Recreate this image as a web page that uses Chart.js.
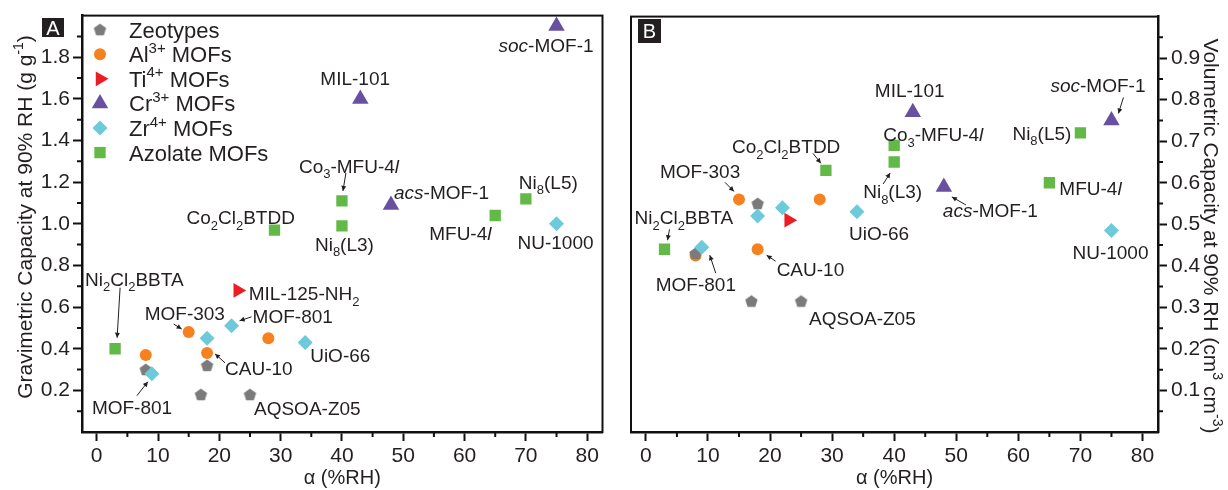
<!DOCTYPE html>
<html>
<head>
<meta charset="utf-8">
<script src="https://cdn.jsdelivr.net/npm/chart.js@4.4.1/dist/chart.umd.min.js"></script>
<style>
  html, body { margin: 0; padding: 0; background: #fff; }
  #wrap { position: relative; width: 1228px; height: 490px; }
  #chartA { position: absolute; left: 0; top: 0; }
  #chartB { position: absolute; left: 612px; top: 0; }
</style>
</head>
<body>
<div id="wrap">
  <canvas id="chartA" width="612" height="490"></canvas>
  <canvas id="chartB" width="616" height="490"></canvas>
</div>
<script>
// alpha (%RH) per material, gravimetric (g/g) and volumetric (cm3/cm3) capacity at 90% RH
const rhZeo = [8, 18, 17, 25];
const gravZeo = [0.30, 0.32, 0.18, 0.18];
const volZeo = [0.43, 0.55, 0.315, 0.315];

const rhAl = [8, 15, 18, 28];
const gravAl = [0.37, 0.48, 0.38, 0.45];
const volAl = [0.425, 0.56, 0.44, 0.56];

const rhTi = [23];
const gravTi = [0.68];
const volTi = [0.51];

const rhCr = [43, 48, 75];
const gravCr = [1.60, 1.09, 1.95];
const volCr = [0.77, 0.59, 0.75];

const rhZr = [9, 18, 22, 34, 75];
const gravZr = [0.28, 0.45, 0.51, 0.43, 1.00];
const volZr = [0.445, 0.52, 0.54, 0.53, 0.485];

const rhAz = [3, 29, 40, 40, 65, 70];
const gravAz = [0.40, 0.97, 1.11, 0.99, 1.04, 1.12];
const volAz = [0.44, 0.63, 0.69, 0.65, 0.60, 0.72];

const seriesNames = ['Zeotypes', 'Al^{3+} MOFs', 'Ti^{4+} MOFs', 'Cr^{3+} MOFs', 'Zr^{4+} MOFs', 'Azolate MOFs'];

// tick labels
const rhTicks = [0, 10, 20, 30, 40, 50, 60, 70, 80];
const rhMinor = [5, 15, 25, 35, 45, 55, 65, 75];
const gravTicks = [0.2, 0.4, 0.6, 0.8, 1.0, 1.2, 1.4, 1.6, 1.8];
const gravMinor = [0.1, 0.3, 0.5, 0.7, 0.9, 1.1, 1.3, 1.5, 1.7, 1.9];
const volTicks = [0.1, 0.2, 0.3, 0.4, 0.5, 0.6, 0.7, 0.8, 0.9];
const volMinor = [0.05, 0.15, 0.25, 0.35, 0.45, 0.55, 0.65, 0.75, 0.85, 0.95];

const FONT = "'Liberation Sans', Arial, Helvetica, sans-serif";
const INK = '#231f20';

// pentagon marker, chart.js has no built-in one
const pentagon = (r, color) => {
  const c = document.createElement('canvas');
  const s = Math.ceil(r * 2 + 2);
  c.width = s; c.height = s;
  const g = c.getContext('2d');
  g.fillStyle = color;
  g.beginPath();
  for (let i = 0; i < 5; i++) {
    const a = -Math.PI / 2 + i * 2 * Math.PI / 5;
    g.lineTo(s / 2 + r * Math.cos(a), s / 2 + r * Math.sin(a) + 0.6);
  }
  g.closePath();
  g.fill();
  return c;
};

const styles = [
  { color: '#7b7b7b', pointStyle: pentagon(6.5, '#7b7b7b'), radius: 6.5, rotation: 0, order: 2 },
  { color: '#f5821f', pointStyle: 'circle', radius: 6, rotation: 0, order: 3 },
  { color: '#ec1c24', pointStyle: 'triangle', radius: 8.5, rotation: 90, order: 0 },
  { color: '#6850a0', pointStyle: 'triangle', radius: 9.5, rotation: 0, order: 4 },
  { color: '#6ccadb', pointStyle: 'rectRot', radius: 7.5, rotation: 0, order: 1 },
  { color: '#62b947', pointStyle: 'rect', radius: 8, rotation: 0, order: 5 },
];

const zip = (xs, ys) => xs.map((x, i) => ({ x, y: ys[i] }));
const rhAll = [rhZeo, rhAl, rhTi, rhCr, rhZr, rhAz];
const gravAll = [gravZeo, gravAl, gravTi, gravCr, gravZr, gravAz];
const volAll = [volZeo, volAl, volTi, volCr, volZr, volAz];

const makeDatasets = (vals) => styles.map((st, k) => ({
  label: seriesNames[k],
  data: zip(rhAll[k], vals[k]),
  pointStyle: st.pointStyle,
  pointRadius: st.radius,
  pointRotation: st.rotation,
  backgroundColor: st.color,
  pointBorderWidth: 0,
  showLine: false,
  order: st.order,
}));

// point labels: text, series, index, offset of label (left, middle) from point, optional arrow
const notesA = [
  { text: '*soc*-MOF-1', s: 3, i: 2, dx: -58, dy: 19 },
  { text: 'MIL-101', s: 3, i: 0, dx: -40, dy: -21 },
  { text: 'Co_{3}-MFU-4*l*', s: 5, i: 2, dx: -43, dy: -35, arrow: [4, -28, 1, -10] },
  { text: '*acs*-MOF-1', s: 3, i: 1, dx: 3, dy: -13 },
  { text: 'Ni_{8}(L3)', s: 5, i: 3, dx: -27, dy: 18 },
  { text: 'MFU-4*l*', s: 5, i: 4, dx: -66, dy: 18 },
  { text: 'Ni_{8}(L5)', s: 5, i: 5, dx: -7, dy: -17 },
  { text: 'NU-1000', s: 4, i: 4, dx: -39, dy: 18 },
  { text: 'Co_{2}Cl_{2}BTDD', s: 5, i: 1, dx: -88, dy: -13 },
  { text: 'Ni_{2}Cl_{2}BBTA', s: 5, i: 0, dx: -30, dy: -70, arrow: [5, -61, 2, -11] },
  { text: 'MIL-125-NH_{2}', s: 2, i: 0, dx: 11, dy: 3 },
  { text: 'MOF-303', s: 1, i: 1, dx: -44, dy: -19, arrow: [-15, -8, -7, -3] },
  { text: 'MOF-801', s: 4, i: 2, dx: 21, dy: -10, arrow: [20, -9, 8, -5] },
  { text: 'CAU-10', s: 1, i: 2, dx: 18, dy: 15, arrow: [18, 10, 8, 1] },
  { text: 'UiO-66', s: 4, i: 3, dx: 5, dy: 13 },
  { text: 'MOF-801', s: 4, i: 0, dx: -60, dy: 33, arrow: [-15, 22, -4, 8] },
  { text: 'AQSOA-Z05', s: 0, i: 3, dx: 4, dy: 14 },
];

const notesB = [
  { text: 'MIL-101', s: 3, i: 0, dx: -38, dy: -22 },
  { text: 'Co_{3}-MFU-4*l*', s: 5, i: 2, dx: -11, dy: -11 },
  { text: 'Ni_{8}(L3)', s: 5, i: 3, dx: -31, dy: 29, arrow: [-11, 22, -4, 11] },
  { text: 'Co_{2}Cl_{2}BTDD', s: 5, i: 1, dx: -94, dy: -24, arrow: [-13, -17, -5, -7] },
  { text: 'MOF-303', s: 1, i: 1, dx: -79, dy: -28, arrow: [-14, -17, -5, -8] },
  { text: 'Ni_{2}Cl_{2}BBTA', s: 5, i: 0, dx: -30, dy: -32, arrow: [5, -20, 3, -9] },
  { text: 'UiO-66', s: 4, i: 3, dx: -8, dy: 21 },
  { text: 'MOF-801', s: 4, i: 0, dx: -46, dy: 37, arrow: [14, 26, 8, 8] },
  { text: 'CAU-10', s: 1, i: 2, dx: 19, dy: 20, arrow: [18, 12, 9, 6] },
  { text: 'AQSOA-Z05', s: 0, i: 3, dx: 8, dy: 17 },
  { text: '*soc*-MOF-1', s: 3, i: 2, dx: -61, dy: -35, arrow: [12, -23, 7, -7] },
  { text: 'Ni_{8}(L5)', s: 5, i: 5, dx: -68, dy: 0 },
  { text: 'MFU-4*l*', s: 5, i: 4, dx: 10, dy: 5 },
  { text: '*acs*-MOF-1', s: 3, i: 1, dx: -1, dy: 23, arrow: [22, 18, 8, 10] },
  { text: 'NU-1000', s: 4, i: 4, dx: -39, dy: 22 },
];

// tiny rich text: _{sub} ^{sup} *italic*
const parseRich = (str) => {
  const segs = [];
  let it = false, buf = '', i = 0;
  const push = (t, mode) => { if (t) segs.push({ t, mode, it }); };
  while (i < str.length) {
    const ch = str[i];
    if (ch === '*') { push(buf, 'n'); buf = ''; it = !it; i++; }
    else if ((ch === '_' || ch === '^') && str[i + 1] === '{') {
      push(buf, 'n'); buf = '';
      const end = str.indexOf('}', i);
      push(str.slice(i + 2, end), ch === '_' ? 'sub' : 'sup');
      i = end + 1;
    } else { buf += ch; i++; }
  }
  push(buf, 'n');
  return segs;
};

const segFont = (seg, size) =>
  (seg.it ? 'italic ' : '') + (seg.mode === 'n' ? size : Math.round(size * 0.68)) + 'px ' + FONT;

const drawRich = (ctx, str, x, y, size, align = 'left', color = INK) => {
  const segs = parseRich(str);
  let w = 0;
  segs.forEach(s => { ctx.font = segFont(s, size); s.w = ctx.measureText(s.t).width; w += s.w; });
  let cx = align === 'center' ? x - w / 2 : align === 'right' ? x - w : x;
  const base = y + size * 0.36;
  ctx.fillStyle = color;
  ctx.textAlign = 'left';
  ctx.textBaseline = 'alphabetic';
  segs.forEach(s => {
    ctx.font = segFont(s, size);
    const off = s.mode === 'sub' ? size * 0.3 : s.mode === 'sup' ? -size * 0.42 : 0;
    ctx.fillText(s.t, cx, base + off);
    cx += s.w;
  });
};

const arrowLine = (ctx, x1, y1, x2, y2) => {
  ctx.strokeStyle = INK; ctx.fillStyle = INK; ctx.lineWidth = 1;
  ctx.beginPath(); ctx.moveTo(x1, y1); ctx.lineTo(x2, y2); ctx.stroke();
  const a = Math.atan2(y2 - y1, x2 - x1), L = 5, H = 2.5;
  ctx.beginPath();
  ctx.moveTo(x2, y2);
  ctx.lineTo(x2 - L * Math.cos(a) + H * Math.sin(a), y2 - L * Math.sin(a) - H * Math.cos(a));
  ctx.lineTo(x2 - L * Math.cos(a) - H * Math.sin(a), y2 - L * Math.sin(a) + H * Math.cos(a));
  ctx.closePath(); ctx.fill();
};

// frame, minor ticks, labels, legend, titles, panel letter
const deco = (cfg) => ({
  id: 'deco' + cfg.letter,
  afterDraw(chart) {
    const { ctx, chartArea: ca, scales } = chart;
    ctx.save();
    ctx.strokeStyle = '#111';
    ctx.lineWidth = 2;
    ctx.strokeRect(ca.left, ca.top, ca.right - ca.left, ca.bottom - ca.top);

    // minor ticks
    ctx.beginPath();
    rhMinor.forEach(v => { const x = scales.x.getPixelForValue(v); ctx.moveTo(x, ca.bottom); ctx.lineTo(x, ca.bottom + 5); });
    cfg.yMinor.forEach(v => {
      const y = scales.y.getPixelForValue(v);
      if (cfg.right) { ctx.moveTo(ca.right, y); ctx.lineTo(ca.right + 5, y); }
      else { ctx.moveTo(ca.left - 5, y); ctx.lineTo(ca.left, y); }
    });
    ctx.stroke();

    // point labels
    cfg.notes.forEach(n => {
      const el = chart.getDatasetMeta(n.s).data[n.i];
      drawRich(ctx, n.text, el.x + n.dx, el.y + n.dy, 19);
      if (n.arrow) arrowLine(ctx, el.x + n.arrow[0], el.y + n.arrow[1], el.x + n.arrow[2], el.y + n.arrow[3]);
    });

    // legend
    if (cfg.legend) {
      styles.forEach((st, k) => {
        const y = ca.top + 14 + k * 24.6;
        ctx.fillStyle = st.color;
        Chart.helpers.drawPoint(ctx, { pointStyle: st.pointStyle, radius: st.radius, rotation: st.rotation, borderWidth: 0 }, ca.left + 18, y);
        drawRich(ctx, seriesNames[k], ca.left + 47, y, 22);
      });
    }

    // axis titles
    drawRich(ctx, 'α (%RH)', (ca.left + ca.right) / 2, 477, 20, 'center');
    ctx.save();
    ctx.translate(cfg.yTitleX, cfg.yTitleY);
    ctx.rotate(cfg.right ? Math.PI / 2 : -Math.PI / 2);
    drawRich(ctx, cfg.yTitle, 0, 0, 21, 'center');
    ctx.restore();

    // panel letter
    const b = cfg.box;
    ctx.fillStyle = INK;
    ctx.fillRect(b[0], b[1], b[2], b[3]);
    drawRich(ctx, cfg.letter, b[0] + b[2] / 2, b[1] + b[3] / 2, 20, 'center', '#fff');
    ctx.restore();
  },
});

const tickFont = { family: FONT, size: 21 };

const makeChart = (id, vals, yTicks, yMin, yMax, cfg) => new Chart(document.getElementById(id), {
  type: 'scatter',
  data: { datasets: makeDatasets(vals) },
  options: {
    responsive: false,
    animation: false,
    events: [],
    layout: { padding: cfg.padding },
    plugins: { legend: { display: false }, tooltip: { enabled: false } },
    scales: {
      x: {
        type: 'linear', min: -2.4, max: 82.5,
        afterBuildTicks: (s) => { s.ticks = rhTicks.map(v => ({ value: v })); },
        afterFit: (s) => { s.height = 58; },
        grid: { drawOnChartArea: false, tickLength: 9, tickWidth: 2, tickColor: '#111' },
        border: { color: '#111', width: 2.5 },
        ticks: { font: tickFont, color: INK, padding: 3, autoSkip: false, maxRotation: 0, callback: (v) => String(v) },
      },
      y: {
        type: 'linear', min: yMin, max: yMax,
        position: cfg.right ? 'right' : 'left',
        afterBuildTicks: (s) => { s.ticks = yTicks.map(v => ({ value: v })); },
        afterFit: (s) => { s.width = cfg.yWidth; },
        grid: { drawOnChartArea: false, tickLength: 9, tickWidth: 2, tickColor: '#111' },
        border: { color: '#111', width: 2.5 },
        ticks: { font: tickFont, color: INK, padding: cfg.right ? 4 : 3, autoSkip: false, callback: (v) => v.toFixed(1) },
      },
    },
  },
  plugins: [deco(cfg)],
});

makeChart('chartA', gravAll, gravTicks, 0, 2.0, {
  letter: 'A', right: false, legend: true, notes: notesA, yMinor: gravMinor,
  padding: { left: 0, top: 15, right: 6, bottom: 0 }, yWidth: 82,
  yTitle: 'Gravimetric Capacity at 90% RH (g g^{-1})', yTitleX: 24, yTitleY: 217,
  box: [42, 18, 22, 19],
});

makeChart('chartB', volAll, volTicks, 0, 1.0, {
  letter: 'B', right: true, legend: false, notes: notesB, yMinor: volMinor,
  padding: { left: 19, top: 15, right: 0, bottom: 0 }, yWidth: 70,
  yTitle: 'Volumetric Capacity at 90% RH (cm^{3} cm^{-3})', yTitleX: 600, yTitleY: 236,
  box: [26, 19, 23, 24],
});
</script>
</body>
</html>
